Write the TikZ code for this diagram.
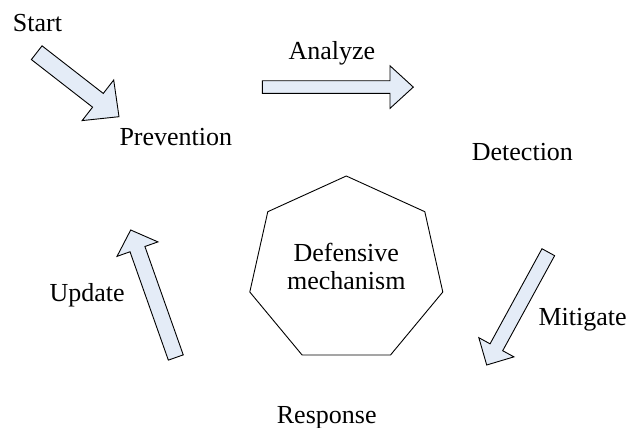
\documentclass[tikz,border=0pt]{standalone}
\usepackage{fontspec}
\setmainfont{Liberation Serif}
\usetikzlibrary{calc}
\definecolor{arrowblue}{RGB}{228,236,247}
\tikzset{
  lbl/.style={inner sep=0pt, anchor=base west, font=\fontsize{26}{28}\selectfont},
  blockarrow/.style={draw=black, fill=arrowblue, line width=0.9pt, line join=miter},
  hepta/.style={draw=black, line width=0.9pt, fill=white},
}
\newcommand\myblockarrow[5]{%
  \coordinate (hb) at ($(#2)!#5!(#1)$);
  \draw[blockarrow] ($(#1)!#3!90:(#2)$) -- ($(hb)!#3!90:(#2)$) -- ($(hb)!#4!90:(#2)$)
     -- (#2) -- ($(hb)!#4!-90:(#2)$) -- ($(hb)!#3!-90:(#2)$) -- ($(#1)!#3!-90:(#2)$) -- cycle;
}
\begin{document}
\begin{tikzpicture}[x=1pt,y=-1pt]
\useasboundingbox (0,0) rectangle (627,428);
% labels
\node[lbl] (start) at (12.7,31.7) {Start};
\node[lbl] (prevention) at (119.3,145.7) {Prevention};
\node[lbl] (analyze) at (288.3,60) {Analyze};
\node[lbl] (detection) at (471.7,160.7) {Detection};
\node[lbl] (mitigate) at (538.3,325) {Mitigate};
\node[lbl] (update) at (49.3,301.7) {Update};
\node[lbl] (response) at (276.7,423.3) {Response};
% heptagon
\coordinate (h1) at (346.3,176);
\coordinate (h2) at (424.8,211.7);
\coordinate (h3) at (442.8,292);
\coordinate (h4) at (390.5,355);
\coordinate (h5) at (302.1,355);
\coordinate (h6) at (249.8,292);
\coordinate (h7) at (267.8,211.7);
\draw[hepta] (h1) -- (h2) -- (h3) -- (h4) -- (h5) -- (h6) -- (h7) -- cycle;
\node[inner sep=0pt, align=center, font=\fontsize{26}{28}\selectfont] (mech) at (346.3,266) {Defensive\\mechanism};
% arrows
\coordinate (a1t) at (36.7,52.7);   \coordinate (a1h) at (119,116.7);
\coordinate (a2t) at (262.3,87.1);  \coordinate (a2h) at (413.3,87.1);
\coordinate (a3t) at (548.3,252.2); \coordinate (a3h) at (486.7,365);
\coordinate (a4t) at (175.8,357.5); \coordinate (a4h) at (130.7,230);
\myblockarrow{a1t}{a1h}{8.7pt}{25.7pt}{26.7pt}
\myblockarrow{a2t}{a2h}{6.3pt}{21.3pt}{23.3pt}
\myblockarrow{a3t}{a3h}{7.2pt}{20pt}{20.2pt}
\myblockarrow{a4t}{a4h}{7.9pt}{21.7pt}{20.3pt}
\end{tikzpicture}
\end{document}
